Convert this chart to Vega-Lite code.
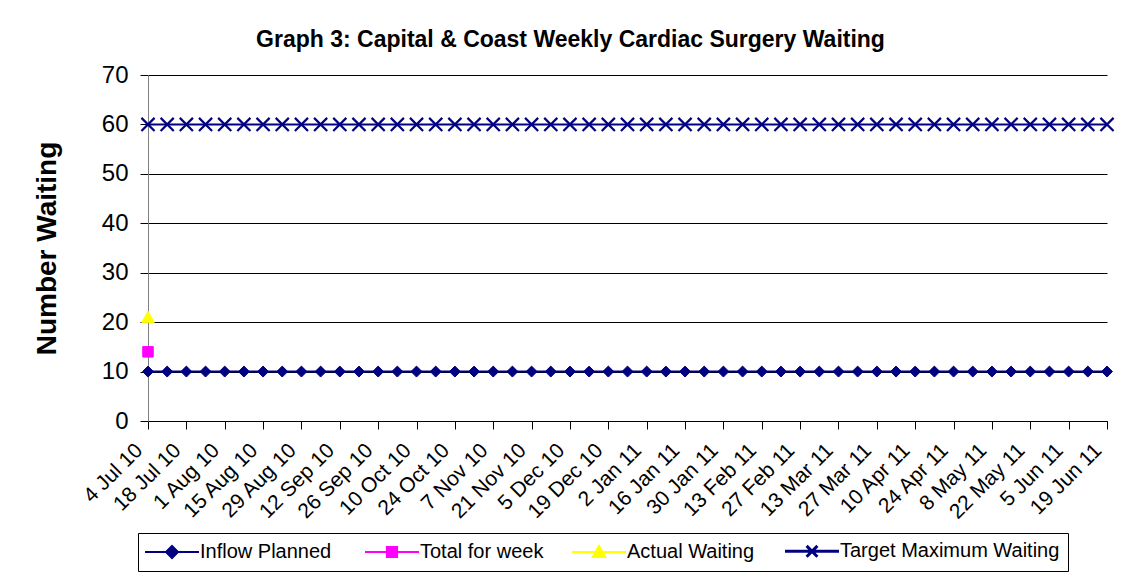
{
  "$schema": "https://vega.github.io/schema/vega-lite/v6.json",
  "width": 959,
  "height": 346,
  "autosize": {"type": "none"},
  "padding": {"left": 148, "top": 75, "right": 29, "bottom": 154},
  "background": "white",
  "title": {
    "text": "Graph 3: Capital & Coast Weekly Cardiac Surgery Waiting",
    "font": "Liberation Sans",
    "fontSize": 23,
    "fontWeight": "bold",
    "color": "black",
    "anchor": "middle",
    "dx": -57,
    "baseline": "alphabetic",
    "offset": -7
  },
  "config": {
    "font": "Liberation Sans",
    "view": {"stroke": null}
  },
  "data": {
    "values": [
      {"week": "4 Jul 10", "series": "Inflow  Planned", "value": 10},
      {"week": "11 Jul 10", "series": "Inflow  Planned", "value": 10},
      {"week": "18 Jul 10", "series": "Inflow  Planned", "value": 10},
      {"week": "25 Jul 10", "series": "Inflow  Planned", "value": 10},
      {"week": "1 Aug 10", "series": "Inflow  Planned", "value": 10},
      {"week": "8 Aug 10", "series": "Inflow  Planned", "value": 10},
      {"week": "15 Aug 10", "series": "Inflow  Planned", "value": 10},
      {"week": "22 Aug 10", "series": "Inflow  Planned", "value": 10},
      {"week": "29 Aug 10", "series": "Inflow  Planned", "value": 10},
      {"week": "5 Sep 10", "series": "Inflow  Planned", "value": 10},
      {"week": "12 Sep 10", "series": "Inflow  Planned", "value": 10},
      {"week": "19 Sep 10", "series": "Inflow  Planned", "value": 10},
      {"week": "26 Sep 10", "series": "Inflow  Planned", "value": 10},
      {"week": "3 Oct 10", "series": "Inflow  Planned", "value": 10},
      {"week": "10 Oct 10", "series": "Inflow  Planned", "value": 10},
      {"week": "17 Oct 10", "series": "Inflow  Planned", "value": 10},
      {"week": "24 Oct 10", "series": "Inflow  Planned", "value": 10},
      {"week": "31 Oct 10", "series": "Inflow  Planned", "value": 10},
      {"week": "7 Nov 10", "series": "Inflow  Planned", "value": 10},
      {"week": "14 Nov 10", "series": "Inflow  Planned", "value": 10},
      {"week": "21 Nov 10", "series": "Inflow  Planned", "value": 10},
      {"week": "28 Nov 10", "series": "Inflow  Planned", "value": 10},
      {"week": "5 Dec 10", "series": "Inflow  Planned", "value": 10},
      {"week": "12 Dec 10", "series": "Inflow  Planned", "value": 10},
      {"week": "19 Dec 10", "series": "Inflow  Planned", "value": 10},
      {"week": "26 Dec 10", "series": "Inflow  Planned", "value": 10},
      {"week": "2 Jan 11", "series": "Inflow  Planned", "value": 10},
      {"week": "9 Jan 11", "series": "Inflow  Planned", "value": 10},
      {"week": "16 Jan 11", "series": "Inflow  Planned", "value": 10},
      {"week": "23 Jan 11", "series": "Inflow  Planned", "value": 10},
      {"week": "30 Jan 11", "series": "Inflow  Planned", "value": 10},
      {"week": "6 Feb 11", "series": "Inflow  Planned", "value": 10},
      {"week": "13 Feb 11", "series": "Inflow  Planned", "value": 10},
      {"week": "20 Feb 11", "series": "Inflow  Planned", "value": 10},
      {"week": "27 Feb 11", "series": "Inflow  Planned", "value": 10},
      {"week": "6 Mar 11", "series": "Inflow  Planned", "value": 10},
      {"week": "13 Mar 11", "series": "Inflow  Planned", "value": 10},
      {"week": "20 Mar 11", "series": "Inflow  Planned", "value": 10},
      {"week": "27 Mar 11", "series": "Inflow  Planned", "value": 10},
      {"week": "3 Apr 11", "series": "Inflow  Planned", "value": 10},
      {"week": "10 Apr 11", "series": "Inflow  Planned", "value": 10},
      {"week": "17 Apr 11", "series": "Inflow  Planned", "value": 10},
      {"week": "24 Apr 11", "series": "Inflow  Planned", "value": 10},
      {"week": "1 May 11", "series": "Inflow  Planned", "value": 10},
      {"week": "8 May 11", "series": "Inflow  Planned", "value": 10},
      {"week": "15 May 11", "series": "Inflow  Planned", "value": 10},
      {"week": "22 May 11", "series": "Inflow  Planned", "value": 10},
      {"week": "29 May 11", "series": "Inflow  Planned", "value": 10},
      {"week": "5 Jun 11", "series": "Inflow  Planned", "value": 10},
      {"week": "12 Jun 11", "series": "Inflow  Planned", "value": 10},
      {"week": "19 Jun 11", "series": "Inflow  Planned", "value": 10},
      {"week": "4 Jul 10", "series": "Total for week", "value": 14},
      {"week": "4 Jul 10", "series": "Actual Waiting", "value": 21},
      {"week": "4 Jul 10", "series": "Target Maximum Waiting", "value": 60},
      {"week": "11 Jul 10", "series": "Target Maximum Waiting", "value": 60},
      {"week": "18 Jul 10", "series": "Target Maximum Waiting", "value": 60},
      {"week": "25 Jul 10", "series": "Target Maximum Waiting", "value": 60},
      {"week": "1 Aug 10", "series": "Target Maximum Waiting", "value": 60},
      {"week": "8 Aug 10", "series": "Target Maximum Waiting", "value": 60},
      {"week": "15 Aug 10", "series": "Target Maximum Waiting", "value": 60},
      {"week": "22 Aug 10", "series": "Target Maximum Waiting", "value": 60},
      {"week": "29 Aug 10", "series": "Target Maximum Waiting", "value": 60},
      {"week": "5 Sep 10", "series": "Target Maximum Waiting", "value": 60},
      {"week": "12 Sep 10", "series": "Target Maximum Waiting", "value": 60},
      {"week": "19 Sep 10", "series": "Target Maximum Waiting", "value": 60},
      {"week": "26 Sep 10", "series": "Target Maximum Waiting", "value": 60},
      {"week": "3 Oct 10", "series": "Target Maximum Waiting", "value": 60},
      {"week": "10 Oct 10", "series": "Target Maximum Waiting", "value": 60},
      {"week": "17 Oct 10", "series": "Target Maximum Waiting", "value": 60},
      {"week": "24 Oct 10", "series": "Target Maximum Waiting", "value": 60},
      {"week": "31 Oct 10", "series": "Target Maximum Waiting", "value": 60},
      {"week": "7 Nov 10", "series": "Target Maximum Waiting", "value": 60},
      {"week": "14 Nov 10", "series": "Target Maximum Waiting", "value": 60},
      {"week": "21 Nov 10", "series": "Target Maximum Waiting", "value": 60},
      {"week": "28 Nov 10", "series": "Target Maximum Waiting", "value": 60},
      {"week": "5 Dec 10", "series": "Target Maximum Waiting", "value": 60},
      {"week": "12 Dec 10", "series": "Target Maximum Waiting", "value": 60},
      {"week": "19 Dec 10", "series": "Target Maximum Waiting", "value": 60},
      {"week": "26 Dec 10", "series": "Target Maximum Waiting", "value": 60},
      {"week": "2 Jan 11", "series": "Target Maximum Waiting", "value": 60},
      {"week": "9 Jan 11", "series": "Target Maximum Waiting", "value": 60},
      {"week": "16 Jan 11", "series": "Target Maximum Waiting", "value": 60},
      {"week": "23 Jan 11", "series": "Target Maximum Waiting", "value": 60},
      {"week": "30 Jan 11", "series": "Target Maximum Waiting", "value": 60},
      {"week": "6 Feb 11", "series": "Target Maximum Waiting", "value": 60},
      {"week": "13 Feb 11", "series": "Target Maximum Waiting", "value": 60},
      {"week": "20 Feb 11", "series": "Target Maximum Waiting", "value": 60},
      {"week": "27 Feb 11", "series": "Target Maximum Waiting", "value": 60},
      {"week": "6 Mar 11", "series": "Target Maximum Waiting", "value": 60},
      {"week": "13 Mar 11", "series": "Target Maximum Waiting", "value": 60},
      {"week": "20 Mar 11", "series": "Target Maximum Waiting", "value": 60},
      {"week": "27 Mar 11", "series": "Target Maximum Waiting", "value": 60},
      {"week": "3 Apr 11", "series": "Target Maximum Waiting", "value": 60},
      {"week": "10 Apr 11", "series": "Target Maximum Waiting", "value": 60},
      {"week": "17 Apr 11", "series": "Target Maximum Waiting", "value": 60},
      {"week": "24 Apr 11", "series": "Target Maximum Waiting", "value": 60},
      {"week": "1 May 11", "series": "Target Maximum Waiting", "value": 60},
      {"week": "8 May 11", "series": "Target Maximum Waiting", "value": 60},
      {"week": "15 May 11", "series": "Target Maximum Waiting", "value": 60},
      {"week": "22 May 11", "series": "Target Maximum Waiting", "value": 60},
      {"week": "29 May 11", "series": "Target Maximum Waiting", "value": 60},
      {"week": "5 Jun 11", "series": "Target Maximum Waiting", "value": 60},
      {"week": "12 Jun 11", "series": "Target Maximum Waiting", "value": 60},
      {"week": "19 Jun 11", "series": "Target Maximum Waiting", "value": 60}
    ]
  },
  "encoding": {
    "x": {
      "field": "week",
      "type": "ordinal",
      "sort": null,
      "scale": {"type": "point", "padding": 0},
      "axis": {
        "title": null,
        "values": ["4 Jul 10", "18 Jul 10", "1 Aug 10", "15 Aug 10", "29 Aug 10", "12 Sep 10", "26 Sep 10", "10 Oct 10", "24 Oct 10", "7 Nov 10", "21 Nov 10", "5 Dec 10", "19 Dec 10", "2 Jan 11", "16 Jan 11", "30 Jan 11", "13 Feb 11", "27 Feb 11", "13 Mar 11", "27 Mar 11", "10 Apr 11", "24 Apr 11", "8 May 11", "22 May 11", "5 Jun 11", "19 Jun 11"],
        "labelAngle": -45,
        "labelAlign": "right",
        "labelBaseline": "middle",
        "labelFont": "Liberation Sans",
        "labelFontSize": 21,
        "labelColor": "black",
        "labelPadding": 18,
        "labelOffset": -9,
        "labelOverlap": false,
        "tickSize": 8,
        "tickColor": "black",
        "domainColor": "black",
        "grid": false
      }
    },
    "y": {
      "field": "value",
      "type": "quantitative",
      "scale": {"domain": [0, 70], "nice": false},
      "axis": {
        "title": "Number Waiting",
        "titleFont": "Liberation Sans",
        "titleFontSize": 28,
        "titleFontWeight": "bold",
        "titleColor": "black",
        "titlePadding": 40,
        "values": [0, 10, 20, 30, 40, 50, 60, 70],
        "labelFont": "Liberation Sans",
        "labelFontSize": 24,
        "labelColor": "black",
        "labelPadding": 12,
        "tickSize": 8,
        "tickColor": "black",
        "domainColor": "#808080",
        "grid": true,
        "gridColor": "black",
        "gridWidth": 1,
        "gridOpacity": 1
      }
    }
  },
  "layer": [
    {
      "mark": {"type": "line", "strokeWidth": 2},
      "encoding": {
        "color": {"field": "series", "type": "nominal",
          "scale": {"domain": ["Inflow  Planned", "Total for week", "Actual Waiting", "Target Maximum Waiting"], "range": ["#000080", "#FF00FF", "#FFFF00", "#000080"]},
          "legend": {
            "title": null,
            "orient": "none",
            "legendX": -10,
            "legendY": 458,
            "direction": "horizontal",
            "padding": 8,
            "strokeColor": "black",
            "fillColor": "white",
            "labelFont": "Liberation Sans",
            "labelFontSize": 20,
            "labelColor": "black",
            "symbolSize": 144,
            "symbolStrokeWidth": 2,
            "symbolOffset": 16,
            "labelOffset": 18,
            "columnPadding": 24,
            "labelLimit": 400,
            "encode": {
              "symbols": {
                "update": {
                  "shape": {"signal": "datum.value === 'Inflow  Planned' ? 'M-4.5,0H4.5M0,-1L1,0L0,1L-1,0Z' : datum.value === 'Total for week' ? 'M-4.5,0H4.5M-0.85,-0.85H0.85V0.85H-0.85Z' : datum.value === 'Actual Waiting' ? 'M-4.5,0H4.5M0,-1L1.05,0.85H-1.05Z' : 'M-4.5,0H4.5M-0.9,-0.9L0.9,0.9M-0.9,0.9L0.9,-0.9'"},
                  "stroke": {"signal": "scale('color', datum.value)"},
                  "fill": {"signal": "datum.value === 'Target Maximum Waiting' ? 'transparent' : scale('color', datum.value)"},
                  "strokeWidth": {"signal": "datum.value === 'Target Maximum Waiting' ? 3 : 2"},
                  "size": {"value": 144},
                  "opacity": {"value": 1}
                }
              }
            }
          }
        },
        "strokeWidth": {"field": "series", "type": "nominal", "legend": null,
          "scale": {"type": "ordinal", "domain": ["Inflow  Planned", "Total for week", "Actual Waiting", "Target Maximum Waiting"], "range": [2, 2, 2, 3]}}
      }
    },
    {
      "transform": [{"filter": "datum.series === 'Inflow  Planned'"}],
      "mark": {"type": "point", "shape": "diamond", "size": 120, "filled": true, "color": "#000080", "stroke": "#000080", "strokeWidth": 1, "opacity": 1}
    },
    {
      "transform": [{"filter": "datum.series === 'Total for week'"}],
      "mark": {"type": "point", "shape": "square", "size": 110, "filled": true, "color": "#FF00FF", "stroke": "#FF00FF", "strokeWidth": 1, "opacity": 1}
    },
    {
      "transform": [{"filter": "datum.series === 'Actual Waiting'"}],
      "mark": {"type": "point", "shape": "M0,-1.1L1.15,0.95H-1.15Z", "size": 120, "filled": true, "color": "#FFFF00", "stroke": "#FFFF00", "strokeWidth": 1, "opacity": 1}
    },
    {
      "transform": [{"filter": "datum.series === 'Target Maximum Waiting'"}],
      "mark": {"type": "point", "shape": "M-1.15,-1.15L1.15,1.15M-1.15,1.15L1.15,-1.15", "size": 130, "filled": false, "color": "#000080", "strokeWidth": 2.2, "opacity": 1}
    }
  ]
}
